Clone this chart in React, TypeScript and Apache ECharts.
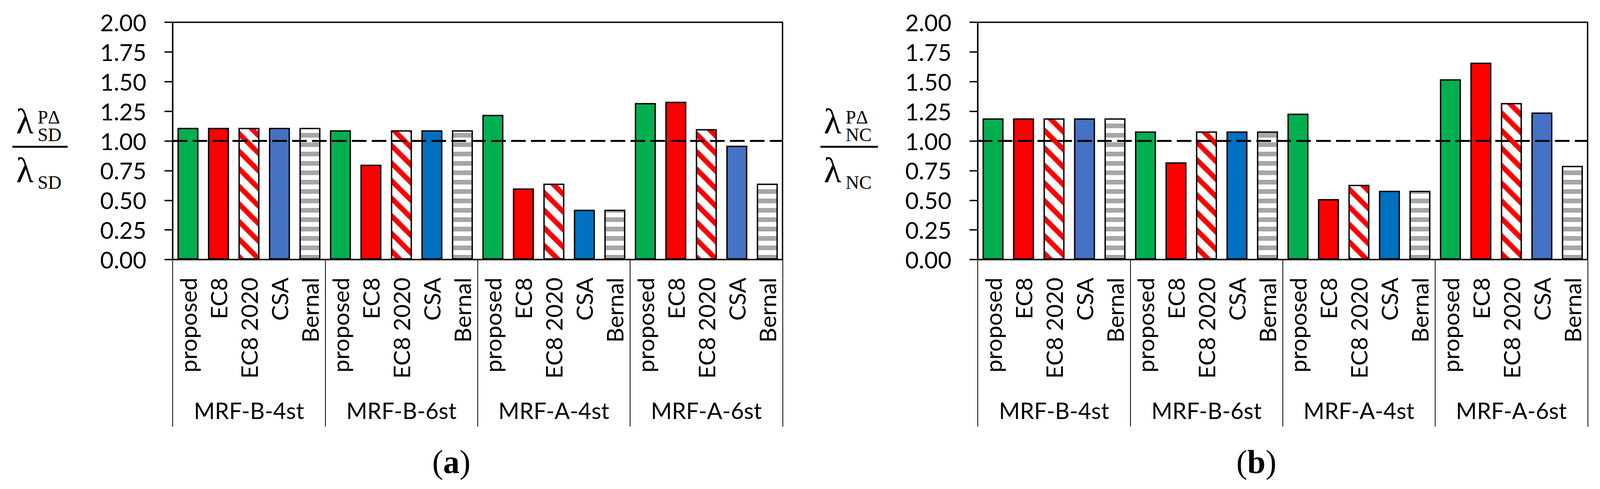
import React, { useEffect, useRef } from "react";
import * as echarts from "echarts";

const groups = ["MRF-B-4st", "MRF-B-6st", "MRF-A-4st", "MRF-A-6st"];
const methods = ["proposed", "EC8", "EC8 2020", "CSA", "Bernal"];
const barLabels = groups.flatMap(() => methods);

// (a) lambda_SD^PΔ / lambda_SD, grouped by frame, 5 methods each
const sdValues = [
  1.11, 1.11, 1.11, 1.11, 1.11,
  1.09, 0.8, 1.09, 1.09, 1.09,
  1.22, 0.6, 0.64, 0.42, 0.42,
  1.32, 1.33, 1.1, 0.96, 0.64,
];

// (b) lambda_NC^PΔ / lambda_NC
const ncValues = [
  1.19, 1.19, 1.19, 1.19, 1.19,
  1.08, 0.82, 1.08, 1.08, 1.08,
  1.23, 0.51, 0.63, 0.58, 0.58,
  1.52, 1.66, 1.32, 1.24, 0.79,
];

// CSA bar colour per group
const csaColors = ["#4472C4", "#0070C0", "#0070C0", "#4472C4"];

const TICK_FONT = "Lato";
const SERIF = "'Liberation Serif', 'Times New Roman', serif";
const REF_WIDTH = 4261;

function diagPattern() {
  const s = 45;
  const c = document.createElement("canvas");
  c.width = s;
  c.height = s;
  const ctx = c.getContext("2d")!;
  ctx.fillStyle = "#fff";
  ctx.fillRect(0, 0, s, s);
  ctx.strokeStyle = "#FF0000";
  ctx.lineWidth = 13;
  for (const k of [-1, 0, 1]) {
    ctx.beginPath();
    ctx.moveTo(k * s - 5, -5);
    ctx.lineTo(k * s + s + 5, s + 5);
    ctx.stroke();
  }
  return { image: c, repeat: "repeat", imageWidth: s, imageHeight: s };
}

function stripePattern() {
  const c = document.createElement("canvas");
  c.width = 8;
  c.height = 24;
  const ctx = c.getContext("2d")!;
  ctx.fillStyle = "#fff";
  ctx.fillRect(0, 0, 8, 24);
  ctx.fillStyle = "#A6A6A6";
  ctx.fillRect(0, 4, 8, 12);
  return { image: c, repeat: "repeat", imageWidth: 8, imageHeight: 24 };
}

const App: React.FC = () => {
  const chartRef = useRef<HTMLDivElement>(null);

  useEffect(() => {
    document.body.style.margin = "0";
    if (!chartRef.current) return;
    const chart = echarts.init(chartRef.current, null, { renderer: "svg" });

    // layout measured on a 4261 px wide figure, squeezed to the real width
    const sx = chartRef.current.clientWidth / REF_WIDTH;
    const X = (v: number) => v * sx;

    const diag = diagPattern();
    const stripes = stripePattern();

    const colorFor = (i: number) => {
      const m = i % 5;
      const g = Math.floor(i / 5);
      if (m === 0) return "#00B050";
      if (m === 1) return "#FF0000";
      if (m === 2) return diag;
      if (m === 3) return csaColors[g];
      return stripes;
    };

    const makeGrid = (left: number) => ({
      left: X(left),
      top: 57,
      width: X(1624),
      height: 607,
      show: true,
      borderColor: "#000",
      borderWidth: 3.5,
    });

    const barAxis = (gridIndex: number) => ({
      gridIndex,
      type: "category",
      position: "bottom",
      data: barLabels,
      axisLine: { show: true, onZero: false, lineStyle: { color: "#000", width: 3.5 } },
      axisTick: { show: false },
      axisLabel: {
        rotate: 90,
        interval: 0,
        margin: 46,
        fontSize: 59,
        fontFamily: TICK_FONT,
        color: "#000",
      },
      splitLine: { show: false },
    });

    const groupAxis = (gridIndex: number) => ({
      gridIndex,
      type: "category",
      position: "bottom",
      data: groups,
      axisLine: { show: false },
      axisTick: {
        show: true,
        interval: 0,
        length: 427,
        lineStyle: { color: "#000", width: 2 },
      },
      axisLabel: {
        interval: 0,
        margin: 356,
        fontSize: 58,
        fontFamily: TICK_FONT,
        color: "#000",
      },
      splitLine: { show: false },
    });

    const valueAxis = (gridIndex: number) => ({
      gridIndex,
      type: "value",
      min: 0,
      max: 2,
      interval: 0.25,
      axisLine: { show: true, lineStyle: { color: "#000", width: 3.5 } },
      axisTick: { show: true, length: X(22), lineStyle: { color: "#000", width: 3.5 } },
      axisLabel: {
        formatter: (v: number) => v.toFixed(2),
        margin: X(70),
        fontSize: 60,
        fontFamily: TICK_FONT,
        color: "#000",
      },
      splitLine: { show: false },
    });

    const barSeries = (values: number[], xAxisIndex: number, yAxisIndex: number) => ({
      type: "bar",
      xAxisIndex,
      yAxisIndex,
      barWidth: X(56),
      data: values.map((v, i) => ({
        value: v,
        itemStyle: { color: colorFor(i) },
      })),
      itemStyle: { borderColor: "#000", borderWidth: 3.5 },
      markLine: {
        silent: true,
        symbol: ["none", "none"],
        label: { show: false },
        lineStyle: { color: "#000", width: 5, type: [X(39), X(14)] },
        data: [{ yAxis: 1 }],
      },
    });

    const txt = (x: number, y: number, text: string, fontSize: number) => ({
      type: "text",
      x: X(x),
      y,
      style: {
        text,
        fontSize,
        fontFamily: SERIF,
        fill: "#000",
        align: "left",
        verticalAlign: "middle",
        textAlign: "left",
        textVerticalAlign: "middle",
      },
    });

    const fraction = (x0: number, lamX: number, subX: number, lineX2: number, sub: string) => [
      txt(lamX, 310, "λ", 92),
      txt(subX, 299, "PΔ", 48),
      txt(subX, 344, sub, 48),
      {
        type: "line",
        shape: { x1: X(x0), y1: 375.5, x2: X(lineX2), y2: 375.5 },
        style: { stroke: "#000", lineWidth: 5 },
      },
      txt(lamX, 435, "λ", 92),
      txt(subX, 466, sub, 48),
    ];

    const caption = (x: number, letter: string) => ({
      type: "text",
      x: X(x),
      y: 1181,
      style: {
        text: `{n|(}{b|${letter}}{n|)}`,
        align: "center",
        verticalAlign: "middle",
        textAlign: "center",
        textVerticalAlign: "middle",
        rich: {
          n: { fontSize: 84, fontFamily: SERIF, fill: "#000", color: "#000" },
          b: { fontSize: 84, fontFamily: SERIF, fontWeight: "bold", fill: "#000", color: "#000" },
        },
      },
    });

    const option: any = {
      animation: false,
      backgroundColor: "#fff",
      grid: [makeGrid(460), makeGrid(2604)],
      xAxis: [barAxis(0), groupAxis(0), barAxis(1), groupAxis(1)],
      yAxis: [valueAxis(0), valueAxis(1)],
      series: [barSeries(sdValues, 0, 0), barSeries(ncValues, 2, 1)],
      graphic: [
        ...fraction(33, 43, 100, 180, "SD"),
        ...fraction(2185, 2194, 2252, 2338, "NC"),
        caption(1202, "a"),
        caption(3346, "b"),
      ],
    };

    chart.setOption(option);

    return () => {
      chart.dispose();
    };
  }, []);

  return <div ref={chartRef} style={{ width: "100%", height: "1251px" }} />;
};

export default App;
